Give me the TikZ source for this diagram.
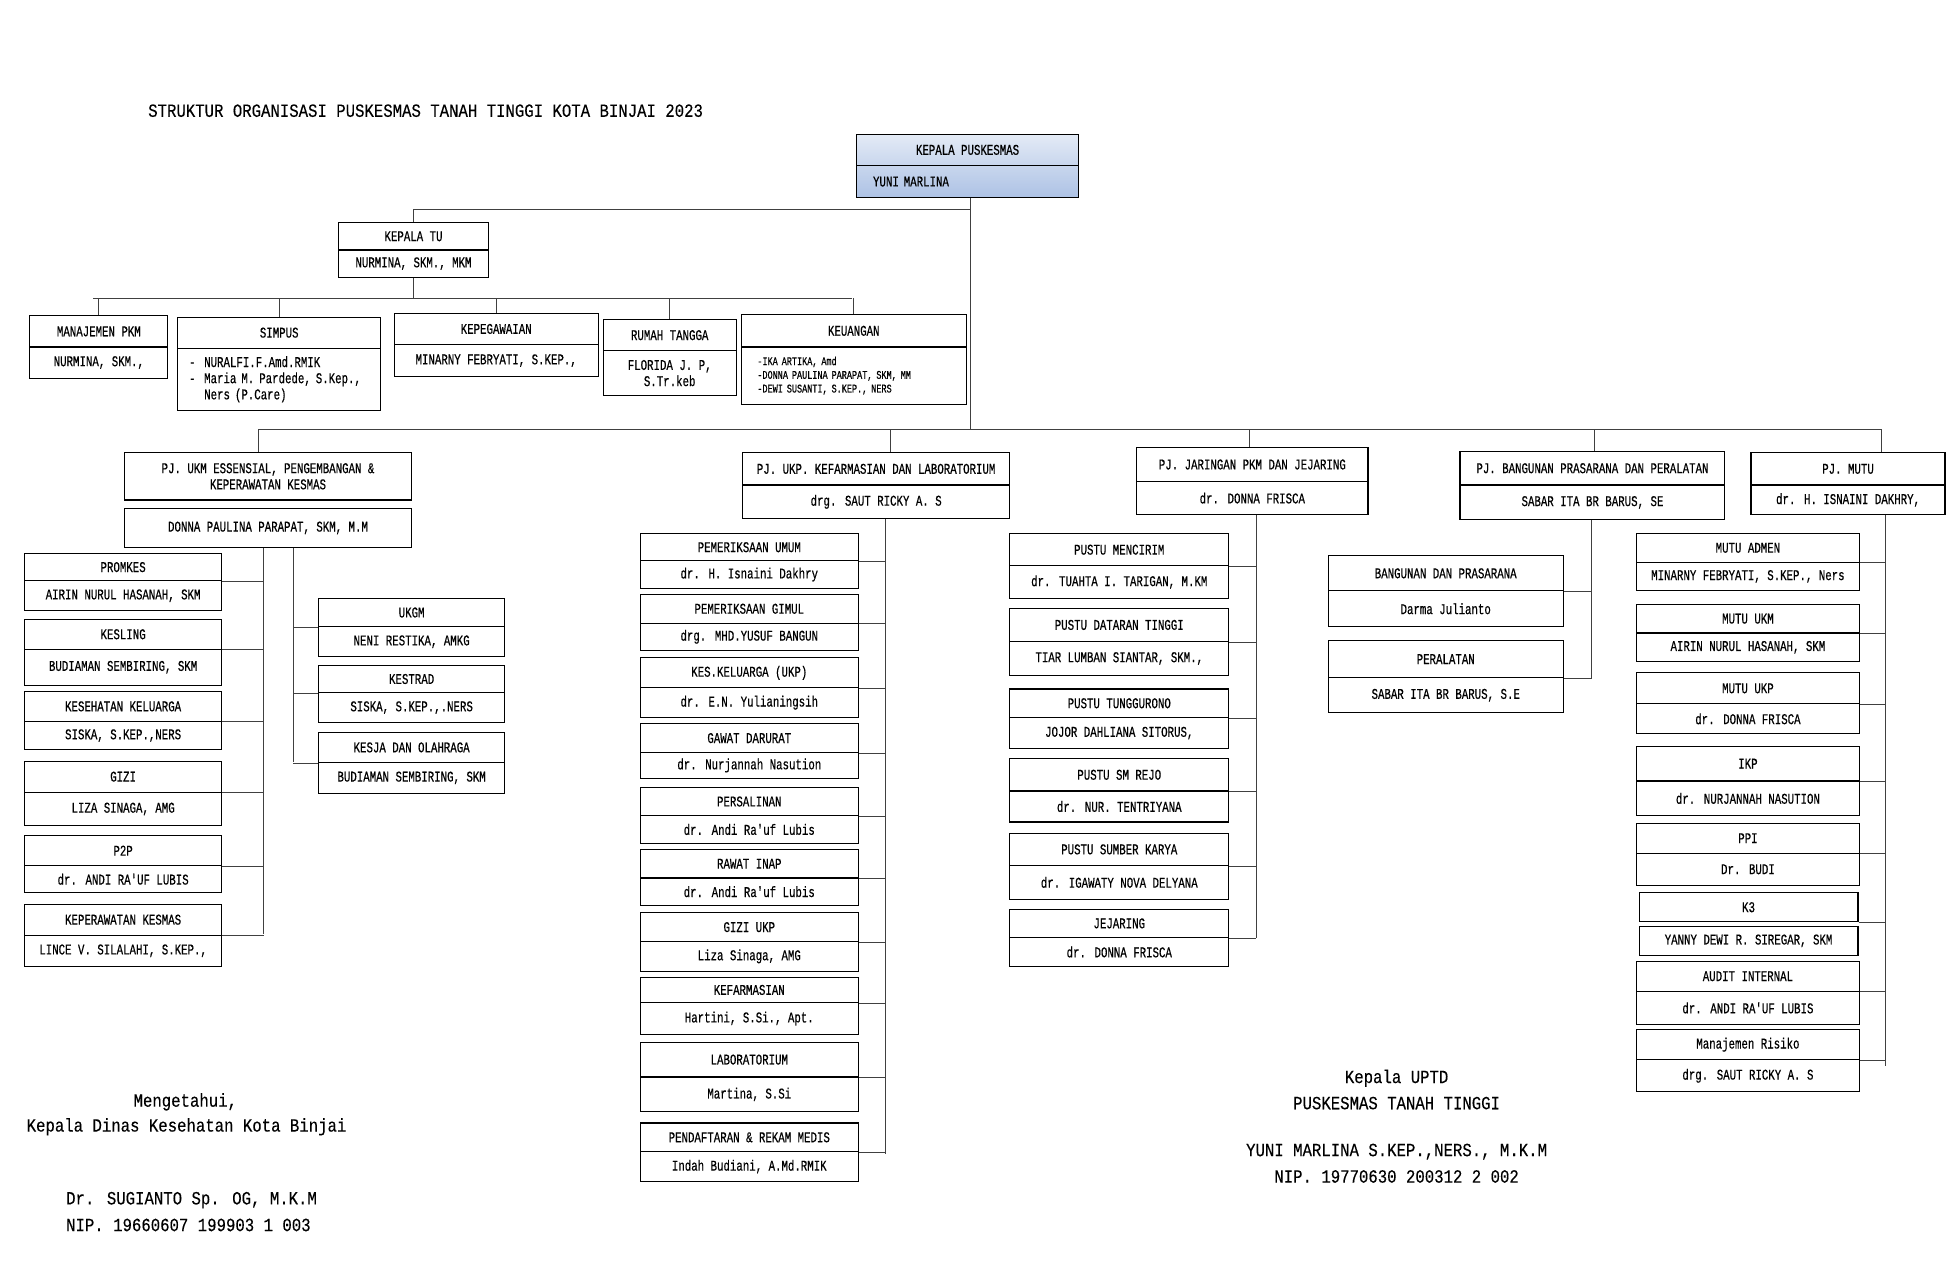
\documentclass[tikz,border=0pt]{standalone}
\usepackage{fontspec}
\newfontfamily\boxfont[FakeStretch=0.72, FakeBold=0.4]{Liberation Mono}
\newfontfamily\signfont[FakeStretch=0.84, FakeBold=0.2]{Liberation Mono}
\definecolor{headtop}{HTML}{E4EBF6}
\definecolor{headmid}{HTML}{C8D6ED}
\definecolor{headlow}{HTML}{ADC2E5}
\tikzset{
  cell/.style={draw, line width=0.9pt, inner sep=1pt, font=\boxfont\fontsize{12}{13}\selectfont},
  link/.style={line width=0.6pt, black!75},
  sign/.style={inner sep=0pt, font=\signfont\fontsize{15}{19}\selectfont},
}
\begin{document}
\begin{tikzpicture}[x=1pt, y=-1pt]
  \def\card#1#2#3#4#5#6#7#8#9{
    \node[cell, minimum width=#3-#2, minimum height=#5-#4] (#1) at ({(#2+#3)/2},{(#4+#5)/2}) {#7};
    \node[cell, minimum width=#3-#2, minimum height=#6-#5, #9] (#1-p) at ({(#2+#3)/2},{(#5+#6)/2}) {#8};
  }
  \path[fill=white] (0,0) rectangle (1568,1025);

  \node[sign, anchor=west] (title) at (119,89) {STRUKTUR ORGANISASI PUSKESMAS TANAH TINGGI KOTA BINJAI 2023};

  \node[cell, minimum width=178, minimum height=25, top color=headtop, bottom color=headmid] (kapus) at (778,120.5) {KEPALA PUSKESMAS};
  \node[cell, minimum width=178, minimum height=26, top color=headmid, bottom color=headlow, inner xsep=13pt, text width=152, align=left] (kapus-p) at (778,146) {YUNI MARLINA};

  \card{tu}{272}{393}{179}{201}{223}{KEPALA TU}{NURMINA, SKM., MKM}{}
  \card{mpkm}{24}{135}{254}{279}{304}{MANAJEMEN PKM}{NURMINA, SKM.,}{}
  \card{simpus}{143}{306}{255}{280}{330}{SIMPUS}{-\hspace{7pt}NURALFI.F.Amd.RMIK\\-\hspace{7pt}Maria M. Pardede, S.Kep.,\\\hspace{12.2pt}Ners (P.Care)}{inner xsep=9pt, text width=145, align=left}
  \card{peg}{317}{481}{252}{277}{303}{KEPEGAWAIAN}{MINARNY FEBRYATI, S.KEP.,}{}
  \card{rt}{485}{592}{257}{282}{318}{RUMAH TANGGA}{FLORIDA J. P,\\S.Tr.keb}{align=center}
  \card{keu}{596}{777}{253}{279}{325}{KEUANGAN}{-IKA ARTIKA, Amd\\-DONNA PAULINA PARAPAT, SKM, MM\\-DEWI SUSANTI, S.KEP., NERS}{inner xsep=13pt, text width=155, align=left, font=\boxfont\fontsize{9.5}{11}\selectfont}

  \coordinate (hub) at (780,345);
  \coordinate (tujoin) at (780,168);
  \draw[link] (kapus-p.south -| hub) -- (hub);
  \draw[link] (tujoin) -| (tu.north);
  \coordinate (busl) at (75,240);
  \coordinate (busr) at (685,240);
  \draw[link] (busl) -- (busr);
  \draw[link] (tu-p.south) -- (tu-p.south |- busl);
  \foreach \n in {mpkm,simpus,peg,rt,keu}
    \draw[link] (\n.north |- busl) -- (\n.north);

  \node[cell, minimum width=231, minimum height=38, align=center] (ukm) at (215.5,383) {PJ. UKM ESSENSIAL, PENGEMBANGAN \&\\KEPERAWATAN KESMAS};
  \node[cell, minimum width=231, minimum height=31] (ukm-p) at (215.5,424.5) {DONNA PAULINA PARAPAT, SKM, M.M};
  \card{ukp}{597}{812}{364}{390}{417}{PJ. UKP. KEFARMASIAN DAN LABORATORIUM}{drg. SAUT RICKY A. S}{}
  \card{jar}{914}{1100}{360}{387}{414}{PJ. JARINGAN PKM DAN JEJARING}{dr. DONNA FRISCA}{}
  \card{bang}{1174}{1387}{363}{390}{418}{PJ. BANGUNAN PRASARANA DAN PERALATAN}{SABAR ITA BR BARUS, SE}{}
  \card{mutu}{1408}{1564}{364}{390}{414}{PJ. MUTU}{dr. H. ISNAINI DAKHRY,}{}

  \coordinate (bus3l) at (208,345);
  \coordinate (bus3r) at (1513,345);
  \draw[link] (bus3l) -- (bus3r);
  \foreach \n/\s in {ukm/-7.5, ukp/11.5, jar/-2, bang/1.5, mutu/27} {
    \coordinate (\n-in) at ([xshift=\s pt]\n.north);
    \draw[link] (\n-in |- hub) -- (\n-in);
  }

  \coordinate (ukmend) at (212,751);
  \coordinate (ukmend2) at (236,613);
  \draw[link] (ukm-p.south -| ukmend) -- (ukmend);
  \draw[link] (ukm-p.south -| ukmend2) -- (ukmend2);
  \foreach \ttl/\who/\ya/\yb/\yc [count = \i] in {
    PROMKES/{AIRIN NURUL HASANAH, SKM}/445/467/491,
    KESLING/{BUDIAMAN SEMBIRING, SKM}/498/522/551,
    KESEHATAN KELUARGA/{SISKA, S.KEP.,NERS}/556/580/603,
    GIZI/{LIZA SINAGA, AMG}/612/637/664,
    P2P/dr. ANDI RA'UF LUBIS/672/696/718,
    KEPERAWATAN KESMAS/{LINCE V. SILALAHI, S.KEP.,}/727/752/777} {
    \card{ukml\i}{20}{178}{\ya}{\yb}{\yc}{\ttl}{\who}{}
    \draw[link] (ukml\i.south east) -- (ukml\i.south east -| ukmend);
  }
  \foreach \ttl/\who/\ya/\yb/\yc [count = \i] in {
    UKGM/{NENI RESTIKA, AMKG}/481/504/528,
    KESTRAD/{SISKA, S.KEP.,.NERS}/535/557/581,
    KESJA DAN OLAHRAGA/{BUDIAMAN SEMBIRING, SKM}/589/613/638} {
    \card{ukmr\i}{256}{406}{\ya}{\yb}{\yc}{\ttl}{\who}{}
    \draw[link] (ukmr\i.south west) -- (ukmr\i.south west -| ukmend2);
  }

  \coordinate (ukpend) at (712,928);
  \draw[link] (ukp-p.south -| ukpend) -- (ukpend);
  \foreach \ttl/\who/\ya/\yb/\yc [count = \i] in {
    PEMERIKSAAN UMUM/dr. H. Isnaini Dakhry/429/451/473,
    PEMERIKSAAN GIMUL/drg. MHD.YUSUF BANGUN/478/501/523,
    KES.KELUARGA (UKP)/dr. E.N. Yulianingsih/529/553/577,
    GAWAT DARURAT/dr. Nurjannah Nasution/582/605/626,
    PERSALINAN/dr. Andi Ra'uf Lubis/633/656/678,
    RAWAT INAP/dr. Andi Ra'uf Lubis/683/706/728,
    GIZI UKP/{Liza Sinaga, AMG}/734/757/781,
    KEFARMASIAN/{Hartini, S.Si., Apt.}/786/806/832,
    LABORATORIUM/{Martina, S.Si}/838/866/894,
    PENDAFTARAN \& REKAM MEDIS/{Indah Budiani, A.Md.RMIK}/903/926/950} {
    \card{ukp\i}{515}{690}{\ya}{\yb}{\yc}{\ttl}{\who}{}
    \draw[link] (ukp\i.south east) -- (ukp\i.south east -| ukpend);
  }

  \coordinate (jarend) at (1010,754);
  \draw[link] (jar-p.south -| jarend) -- (jarend);
  \foreach \ttl/\who/\ya/\yb/\yc [count = \i] in {
    PUSTU MENCIRIM/{dr. TUAHTA I. TARIGAN, M.KM}/429/455/481,
    PUSTU DATARAN TINGGI/{TIAR LUMBAN SIANTAR, SKM.,}/489/516/543,
    PUSTU TUNGGURONO/{JOJOR DAHLIANA SITORUS,}/554/577/602,
    PUSTU SM REJO/dr. NUR. TENTRIYANA/610/636/661,
    PUSTU SUMBER KARYA/dr. IGAWATY NOVA DELYANA/670/696/723,
    JEJARING/dr. DONNA FRISCA/731/754/777} {
    \card{jar\i}{812}{988}{\ya}{\yb}{\yc}{\ttl}{\who}{}
    \draw[link] (jar\i.south east) -- (jar\i.south east -| jarend);
  }

  \coordinate (bangend) at (1280,545);
  \draw[link] (bang-p.south -| bangend) -- (bangend);
  \foreach \ttl/\who/\ya/\yb/\yc [count = \i] in {
    BANGUNAN DAN PRASARANA/Darma Julianto/447/475/504,
    PERALATAN/{SABAR ITA BR BARUS, S.E}/515/545/573} {
    \card{bang\i}{1068}{1257}{\ya}{\yb}{\yc}{\ttl}{\who}{}
    \draw[link] (bang\i.south east) -- (bang\i.south east -| bangend);
  }

  \coordinate (mutuend) at (1516,857);
  \draw[link] (mutu-p.south -| mutuend) -- (mutuend);
  \foreach \ttl/\who/\ya/\yb/\yc [count = \i] in {
    MUTU ADMEN/{MINARNY FEBRYATI, S.KEP., Ners}/429/452/475,
    MUTU UKM/{AIRIN NURUL HASANAH, SKM}/486/509/532,
    MUTU UKP/dr. DONNA FRISCA/541/566/590,
    IKP/dr. NURJANNAH NASUTION/600/628/656,
    PPI/Dr. BUDI/662/686/712,
    AUDIT INTERNAL/dr. ANDI RA'UF LUBIS/773/797/824,
    Manajemen Risiko/drg. SAUT RICKY A. S/828/852/878} {
    \card{mutu\i}{1316}{1495}{\ya}{\yb}{\yc}{\ttl}{\who}{}
    \draw[link] (mutu\i.south east) -- (mutu\i.south east -| mutuend);
  }
  \node[cell, minimum width=176, minimum height=23] (k3) at (1406,729.5) {K3};
  \node[cell, minimum width=176, minimum height=23] (k3-p) at (1406,756.5) {YANNY DEWI R. SIREGAR, SKM};
  \draw[link] (k3.south east) -- (k3.south east -| mutuend);

  \node[sign] (know) at (149,886) {Mengetahui,};
  \node[sign] (dinas) at (150,906) {Kepala Dinas Kesehatan Kota Binjai};
  \node[sign, anchor=west] (kadis) at (53,965) {Dr. SUGIANTO Sp. OG, M.K.M};
  \node[sign, anchor=west] (kadisnip) at (53,985) {NIP. 19660607 199903 1 003};
  \node[sign] (uptd) at (1123,867) {Kepala UPTD};
  \node[sign] (pkm) at (1123,887) {PUSKESMAS TANAH TINGGI};
  \node[sign] (kapusname) at (1123,926) {YUNI MARLINA S.KEP.,NERS., M.K.M};
  \node[sign] (kapusnip) at (1123,946) {NIP. 19770630 200312 2 002};
\end{tikzpicture}
\end{document}
